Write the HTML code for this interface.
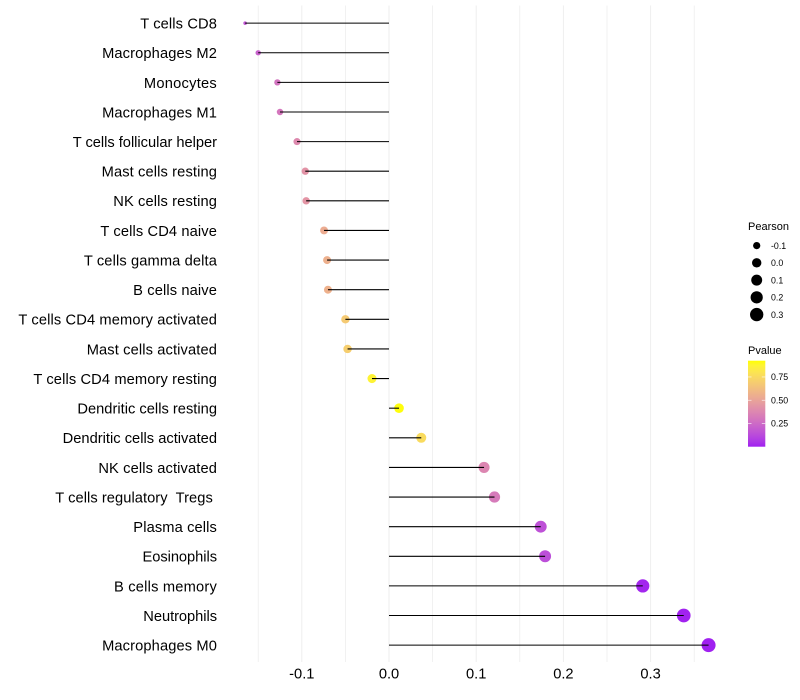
<!DOCTYPE html>
<html>
<head>
<meta charset="utf-8">
<style>
html,body{margin:0;padding:0;background:#fff;width:800px;height:700px;overflow:hidden}
svg{display:block}
text{font-family:"Liberation Sans",sans-serif}
</style>
</head>
<body>
<svg id="chart" width="800" height="700" viewBox="0 0 800 700" xmlns="http://www.w3.org/2000/svg"></svg>
<script>
const categories = ["T cells CD8","Macrophages M2","Monocytes","Macrophages M1","T cells follicular helper","Mast cells resting","NK cells resting","T cells CD4 naive","T cells gamma delta","B cells naive","T cells CD4 memory activated","Mast cells activated","T cells CD4 memory resting","Dendritic cells resting","Dendritic cells activated","NK cells activated","T cells regulatory  Tregs ","Plasma cells","Eosinophils","B cells memory","Neutrophils","Macrophages M0"];
const pearson = [-0.165,-0.150,-0.128,-0.125,-0.1055,-0.096,-0.095,-0.0745,-0.071,-0.070,-0.050,-0.0475,-0.0195,0.0115,0.037,0.109,0.121,0.174,0.179,0.291,0.338,0.3665];
const pvalue = [0.17,0.215,0.29,0.30,0.385,0.43,0.435,0.54,0.56,0.565,0.68,0.70,0.87,0.92,0.76,0.37,0.32,0.15,0.14,0.015,0.004,0.002];
const xMajorTicks = [-0.1,0,0.1,0.2,0.3];
const xMinorTicks = [-0.15,-0.05,0.05,0.15,0.25,0.35];
const sizeLegendValues = [-0.1,0,0.1,0.2,0.3];
const colorLegendValues = [0.75,0.5,0.25];

const NS = "http://www.w3.org/2000/svg";
const svg = document.getElementById("chart");
function add(tag, attrs, parent, txt){
  const e = document.createElementNS(NS, tag);
  for (const k in attrs) e.setAttribute(k, attrs[k]);
  if (txt !== undefined) e.textContent = txt;
  (parent || svg).appendChild(e);
  return e;
}
/* axis functions */
const xScale = v => 389 + 872 * v;
const yScale = i => 23.12 + i * 29.62;
const minP = Math.min(...pearson), maxP = Math.max(...pearson);
const rScale = v => 1.8 + 5.2 * Math.sqrt(Math.max(0, (v - minP) / (maxP - minP)));
/* colour: Lab interpolation purple to yellow */
function rgb2lab(c){
  const f = u => { u /= 255; return u > 0.04045 ? Math.pow((u + 0.055) / 1.055, 2.4) : u / 12.92; };
  const r = f(c[0]), g = f(c[1]), b = f(c[2]);
  const X = (0.4124*r + 0.3576*g + 0.1805*b) / 0.95047;
  const Y = 0.2126*r + 0.7152*g + 0.0722*b;
  const Z = (0.0193*r + 0.1192*g + 0.9505*b) / 1.08883;
  const h = t => t > 0.008856 ? Math.cbrt(t) : 7.787*t + 16/116;
  return [116*h(Y) - 16, 500*(h(X) - h(Y)), 200*(h(Y) - h(Z))];
}
function lab2rgb(l){
  const fy = (l[0] + 16) / 116, fx = fy + l[1] / 500, fz = fy - l[2] / 200;
  const h = t => t*t*t > 0.008856 ? t*t*t : (t - 16/116) / 7.787;
  const X = h(fx)*0.95047, Y = h(fy), Z = h(fz)*1.08883;
  const g = u => { u = u > 0.0031308 ? 1.055*Math.pow(u, 1/2.4) - 0.055 : 12.92*u; return Math.round(255*Math.min(1, Math.max(0, u))); };
  return "rgb(" + g(3.2406*X - 1.5372*Y - 0.4986*Z) + "," + g(-0.9689*X + 1.8758*Y + 0.0415*Z) + "," + g(0.0557*X - 0.204*Y + 1.057*Z) + ")";
}
const labLow = rgb2lab([160,32,240]), labHigh = rgb2lab([255,255,0]);
const pMin = 0.0, pMax = 0.925;
function colorScale(p){
  const t = Math.min(1, Math.max(0, (p - pMin) / (pMax - pMin)));
  return lab2rgb([0,1,2].map(i => labLow[i] + (labHigh[i] - labLow[i]) * t));
}
/* label tracking: glyph-class tweak so narrow-letter labels match the reference widths */
function labelSpacing(name){
  if (name === "T cells follicular helper") return -0.02;
  if (name.indexOf("Dendritic") === 0) return 0.015;
  if (name === "T cells regulatory  Tregs ") return 0.06;
  if (name === "Eosinophils" || name === "Neutrophils") return -0.04;
  if (name === "Monocytes") return 0.25;
  if (name === "B cells memory") return 0.2;
  return 0.12;
}

/* grid */
const gridG = add("g", {});


xMinorTicks.forEach(v => {
  const l = add("line", {x1:xScale(v), x2:xScale(v), y1:5.5, y2:662, stroke:"#ebebeb", "stroke-width":0.7}, gridG);
  
  
});
xMajorTicks.forEach(v => {
  const l = add("line", {x1:xScale(v), x2:xScale(v), y1:5.5, y2:662, stroke:"#eeeeee", "stroke-width":1}, gridG);
  
  
});

/* marks */
categories.forEach((name, i) => {
  const y = yScale(i), v = pearson[i];
  const dot = add("circle", {cx:xScale(v), cy:y, r:rScale(v), fill:colorScale(pvalue[i])});
  
  
  const seg = add("line", {x1:xScale(0), x2:xScale(v), y1:y, y2:y, stroke:"#000", "stroke-width":1.07});
  
  
  const lab = add("text", {x:217, y:y + 5.4, "text-anchor":"end", "font-size":14.67, fill:"#000", "letter-spacing":labelSpacing(name), style:"white-space:pre"}, null, name);
  
  
});

/* x axis labels */
xMajorTicks.forEach(v => {
  const t = add("text", {x:xScale(v), y:678.7, "text-anchor":"middle", "font-size":14.67, fill:"#000"}, null, v.toFixed(1));
  
  
});

/* size legend */
const t1 = add("text", {x:748, y:230, "font-size":11, fill:"#000"}, null, "Pearson");


sizeLegendValues.forEach((v, i) => {
  const y = 245.6 + i * 17.25;
  const c = add("circle", {cx:756.7, cy:y, r:rScale(v), fill:"#000"});
  
  
  const t = add("text", {x:771, y:y + 3.2, "font-size":8.8, fill:"#000"}, null, v.toFixed(1));
  
  
});

/* colour legend */
const t2 = add("text", {x:748, y:354, "font-size":11, fill:"#000"}, null, "Pvalue");


const defs = add("defs", {});
const grad = add("linearGradient", {id:"pgrad", x1:0, y1:1, x2:0, y2:0}, defs);
for (let k = 0; k <= 20; k++) {
  add("stop", {offset:k / 20, "stop-color":colorScale(pMin + (pMax - pMin) * k / 20)}, grad);
}
const barTop = 360.7, barBottom = 446.7;
const bar = add("rect", {x:748, y:barTop, width:17.3, height:barBottom - barTop, fill:"url(#pgrad)"});


const pY = p => barBottom - (p - pMin) / (pMax - pMin) * (barBottom - barTop);
colorLegendValues.forEach(p => {
  const y = pY(p);
  const a = add("line", {x1:748, x2:751.5, y1:y, y2:y, stroke:"#fff", "stroke-width":0.6});
  
  
  const b = add("line", {x1:761.8, x2:765.3, y1:y, y2:y, stroke:"#fff", "stroke-width":0.6});
  
  
  const t = add("text", {x:771, y:y + 3.2, "font-size":8.8, fill:"#000"}, null, p.toFixed(2));
  
  
});
</script>
</body>
</html>
